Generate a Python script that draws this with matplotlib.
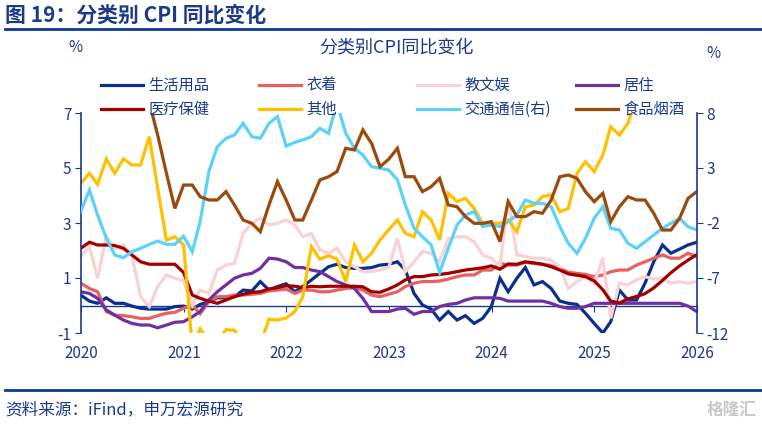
import matplotlib
matplotlib.use("Agg")
import matplotlib.pyplot as plt
import matplotlib.dates as mdates
from matplotlib.lines import Line2D
import pandas as pd

plt.rcParams["font.family"] = ["Noto Sans CJK SC", "DejaVu Sans"]
plt.rcParams["axes.unicode_minus"] = False

NAVY = "#1B3A8C"
RULE = "#0D3894"

# 月度数据：2019-12 ~ 2025-12（月末）
months = pd.date_range("2019-12-31", periods=73, freq="ME")

daily_goods = [  # 生活用品
    0.38, 0.16, 0.08, 0.28, 0.08, 0.08, -0.02, -0.10, -0.13, -0.13, -0.13, -0.04, -0.02,
    -0.13, 0.04, 0.14, 0.28, 0.28, 0.32, 0.56, 0.53, 0.87, 0.56, 0.69, 0.79,
    0.50, 0.69, 0.93, 1.17, 1.41, 1.50, 1.38, 1.35, 1.35, 1.38, 1.47, 1.50,
    1.59, 1.29, 0.44, 0.02, -0.13, -0.53, -0.22, -0.53, -0.37, -0.65, -0.47,
    -0.04, 0.99, 0.50, 0.99, 1.38, 0.75, 0.87, 0.62, 0.16, 0.08, 0.04, -0.28,
    -0.65, -1.00, -0.59, 0.56, 0.20, 0.20, 0.81, 1.59, 2.20, 1.90, 2.05, 2.20, 2.30,
]
clothing = [  # 衣着
    0.81, 0.62, 0.50, -0.22, -0.35, -0.37, -0.41, -0.47, -0.47, -0.37, -0.28, -0.25, -0.10,
    0.02, -0.30, 0.14, 0.32, 0.32, 0.38, 0.38, 0.41, 0.44, 0.53, 0.56, 0.60,
    0.44, 0.56, 0.56, 0.50, 0.50, 0.56, 0.62, 0.65, 0.56, 0.38, 0.32, 0.41,
    0.50, 0.69, 0.81, 0.87, 0.87, 0.89, 0.96, 1.05, 1.11, 1.11, 1.29,
    1.29, 1.53, 1.47, 1.47, 1.57, 1.53, 1.50, 1.45, 1.35, 1.21, 1.17, 1.13,
    1.05, 1.11, 1.23, 1.29, 1.29, 1.47, 1.59, 1.72, 1.84, 1.72, 1.72, 1.90, 1.78,
]
edu_culture = [  # 教文娱
    1.78, 2.14, 0.99, 2.50, 2.08, 2.20, 1.84, 0.32, -0.04, 0.69, 1.11, 0.99, 0.90,
    0.00, 0.56, 0.44, 1.29, 1.47, 1.53, 2.62, 2.99, 3.17, 2.93, 2.99, 3.11,
    2.93, 2.50, 2.62, 2.02, 1.90, 2.08, 1.59, 1.41, 1.23, 1.23, 1.29, 1.38,
    2.44, 1.23, 1.59, 1.96, 1.90, 1.59, 2.44, 2.50, 2.50, 2.32, 1.84,
    1.72, 1.41, 3.90, 1.84, 1.78, 1.72, 1.72, 1.65, 1.41, 0.62, 0.87, 1.05,
    0.81, 1.72, -0.47, 0.81, 0.75, 0.93, 1.05, 0.96, 0.99, 0.81, 0.87, 0.81, 0.87,
]
housing = [  # 居住
    0.50, 0.44, 0.26, -0.16, -0.35, -0.53, -0.65, -0.71, -0.71, -0.81, -0.71, -0.61, -0.59,
    -0.41, -0.22, 0.20, 0.50, 0.75, 0.99, 1.11, 1.17, 1.35, 1.72, 1.69, 1.59,
    1.38, 1.38, 1.29, 1.23, 1.05, 0.87, 0.75, 0.62, 0.26, -0.22, -0.22, -0.22,
    -0.13, -0.10, -0.32, -0.22, -0.22, -0.04, 0.04, 0.08, 0.20, 0.28, 0.28,
    0.28, 0.26, 0.16, 0.16, 0.16, 0.16, 0.16, 0.08, -0.04, -0.10, -0.10, -0.04,
    0.08, 0.08, 0.08, 0.08, 0.08, 0.08, 0.08, 0.08, 0.08, 0.08, 0.08, -0.02, -0.22,
]
medical = [  # 医疗保健
    2.08, 2.30, 2.20, 2.20, 2.18, 2.08, 1.84, 1.59, 1.50, 1.50, 1.50, 1.50, 1.20,
    0.38, 0.26, 0.16, 0.08, 0.20, 0.32, 0.41, 0.48, 0.50, 0.60, 0.65, 0.72,
    0.70, 0.65, 0.70, 0.68, 0.70, 0.70, 0.70, 0.70, 0.68, 0.50, 0.48, 0.60,
    0.75, 0.93, 1.05, 1.05, 1.11, 1.13, 1.17, 1.23, 1.29, 1.33, 1.37,
    1.44, 1.32, 1.51, 1.50, 1.59, 1.55, 1.50, 1.41, 1.29, 1.15, 1.10, 1.05,
    0.90, 0.57, 0.16, 0.09, 0.24, 0.33, 0.43, 0.64, 0.91, 1.19, 1.44, 1.65, 1.85,
]
others = [  # 其他
    4.44, 4.81, 4.41, 5.33, 4.81, 5.33, 5.11, 5.11, 6.14, 4.26, 2.38, 2.50, 2.20,
    -1.50, -0.85, -1.30, -1.30, -0.88, -0.90, -1.40, -1.50, -1.40, -0.50, -0.53, -0.45,
    -0.22, 0.32, 2.14, 1.69, 1.81, 1.69, 0.87, 2.20, 1.59, 1.90, 2.38, 2.75,
    3.11, 2.62, 2.50, 3.41, 3.11, 2.38, 4.08, 3.78, 3.90, 3.53, 2.99,
    2.99, 2.99, 3.11, 2.68, 3.59, 3.65, 3.96, 4.02, 3.41, 3.53, 4.81, 5.23,
    4.87, 5.47, 6.50, 6.20, 6.62, 7.60, 8.10, 8.30, 8.70, 9.90, 12.30, 13.50, 14.00,
]
transport = [  # 交通通信（右轴）
    -0.97, 1.00, -1.27, -3.39, -4.91, -5.15, -4.61, -4.30, -3.94, -3.64, -3.94, -3.94, -3.20,
    -4.61, -1.88, 2.67, 4.94, 5.70, 6.00, 7.06, 5.85, 5.70, 7.06, 7.67, 5.00,
    5.33, 5.55, 5.85, 6.61, 6.15, 8.90, 6.15, 4.79, 4.18, 3.12, 2.97, 2.82,
    1.91, -0.36, -2.48, -3.24, -4.00, -6.50, -4.30, -2.18, -1.27, -0.97, -2.33,
    -2.18, -2.33, -1.88, -1.27, 0.09, -0.21, -0.21, -0.52, -2.33, -3.85, -4.76, -3.40,
    -1.58, -0.52, -2.48, -2.64, -3.85, -4.30, -3.70, -3.09, -2.48, -2.03, -1.58, -2.33, -2.64,
]
food = [  # 食品烟酒（右轴）
    12.9, 15.2, 15.3, 13.6, 10.6, 8.4, 8.6, 10.2, 9.0, 5.97, 2.52, -0.67, 1.45,
    1.45, 0.39, 0.09, 0.09, 0.85, -0.36, -1.73, -2.03, -2.79, -0.36, 1.76, 0.09,
    -1.73, -1.73, 0.09, 1.91, 2.21, 2.67, 4.79, 4.64, 6.45, 5.24, 3.12, 3.80,
    4.79, 2.21, 2.21, 0.85, 1.30, 2.06, -0.36, -0.52, -1.42, -2.03, -2.03,
    -1.88, -3.70, -0.06, -1.42, -1.42, -0.97, -1.12, 0.09, 2.21, 2.36, 2.06, 0.85,
    -0.06, 0.70, -1.88, -0.52, 0.39, 0.09, 0.09, -1.12, -2.64, -2.64, -1.58, 0.24, 0.85,
]

left_series = [
    ("生活用品", daily_goods, "#0B2F8F"),
    ("衣着", clothing, "#E8605F"),
    ("教文娱", edu_culture, "#F9D2D3"),
    ("居住", housing, "#7030A0"),
    ("医疗保健", medical, "#A00000"),
    ("其他", others, "#FFC000"),
]
right_series = [
    ("交通通信(右)", transport, "#5CD2FA"),
    ("食品烟酒", food, "#9A4A0C"),
]

fig = plt.figure(figsize=(7.62, 4.28), dpi=100)
ax = fig.add_axes([81 / 762, 1 - 333 / 428, 616 / 762, 220 / 428])
ax2 = ax.twinx()

lines = {}
for name, vals, color in left_series:
    lines[name], = ax.plot(months, vals, color=color, lw=2.3, solid_joinstyle="miter")
for name, vals, color in right_series:
    lines[name], = ax2.plot(months, vals, color=color, lw=2.3, solid_joinstyle="miter")

ax.set_xlim(pd.Timestamp("2020-01-01"), pd.Timestamp("2026-01-01"))
ax.set_ylim(-1, 7)
ax.set_yticks([-1, 1, 3, 5, 7])
ax2.set_ylim(-12, 8)
ax2.set_yticks([-12, -7, -2, 3, 8])

ax.xaxis.set_major_locator(mdates.YearLocator())
ax.xaxis.set_major_formatter(mdates.DateFormatter("%Y"))
ax.tick_params(axis="x", length=0, pad=9, labelsize=11, labelcolor=NAVY)
ax.tick_params(axis="y", direction="out", length=4, color=NAVY, labelcolor=NAVY, labelsize=11, pad=3)
ax2.tick_params(axis="y", direction="out", length=4, color=NAVY, labelcolor=NAVY, labelsize=11, pad=3)

for a in (ax, ax2):
    for s in ("top", "bottom"):
        a.spines[s].set_visible(False)
ax.spines["right"].set_visible(False)
ax2.spines["left"].set_visible(False)
ax.spines["left"].set_color(NAVY)
ax2.spines["right"].set_color(NAVY)
ax.spines["left"].set_linewidth(1.2)
ax2.spines["right"].set_linewidth(1.2)

# 零轴（左轴 0 处）
zero_axis = ax.secondary_xaxis(1 / 8)
zero_axis.xaxis.set_major_locator(mdates.YearLocator())
zero_axis.xaxis.set_major_formatter(plt.NullFormatter())
zero_axis.tick_params(direction="out", length=4, color=NAVY)
for s in zero_axis.spines.values():
    s.set_color(NAVY)
    s.set_linewidth(1.0)

# 图例：4 列，每列 2 项
legend_cols = [
    ["生活用品", "医疗保健"],
    ["衣着", "其他"],
    ["教文娱", "交通通信(右)"],
    ["居住", "食品烟酒"],
]
col_x = [101, 259, 417, 576]
for names, x in zip(legend_cols, col_x):
    fig.legend([lines[n] for n in names], names, loc="upper left",
               bbox_to_anchor=(x / 762, 1 - 77 / 428), frameon=False,
               borderpad=0, borderaxespad=0, handlelength=2.75,
               handletextpad=0.35, labelspacing=0.45, fontsize=11,
               labelcolor=NAVY)

fig.text(5 / 762, 1 - 15 / 428, "图 19：分类别 CPI 同比变化", fontsize=15,
         fontweight="bold", color=NAVY, va="center", ha="left")
fig.add_artist(Line2D([5 / 762, 1], [1 - 29 / 428] * 2, color=RULE, lw=2))
fig.text(396 / 762, 1 - 47 / 428, "分类别CPI同比变化", fontsize=13, color=NAVY,
         ha="center", va="center")
fig.text(75 / 762, 1 - 47 / 428, "%", fontsize=11, color=NAVY, ha="center", va="center")
fig.text(713 / 762, 1 - 53 / 428, "%", fontsize=11, color=NAVY, ha="center", va="center")

fig.add_artist(Line2D([5 / 762, 1], [1 - 390 / 428] * 2, color=RULE, lw=2))
fig.text(5 / 762, 1 - 410 / 428, "资料来源：iFind，申万宏源研究", fontsize=12,
         color=NAVY, ha="left", va="center")
fig.text(757 / 762, 1 - 410 / 428, "格隆汇", fontsize=12, color="#C9C9C9",
         ha="right", va="center", fontweight="bold")

fig.savefig("out.png", dpi=100)
